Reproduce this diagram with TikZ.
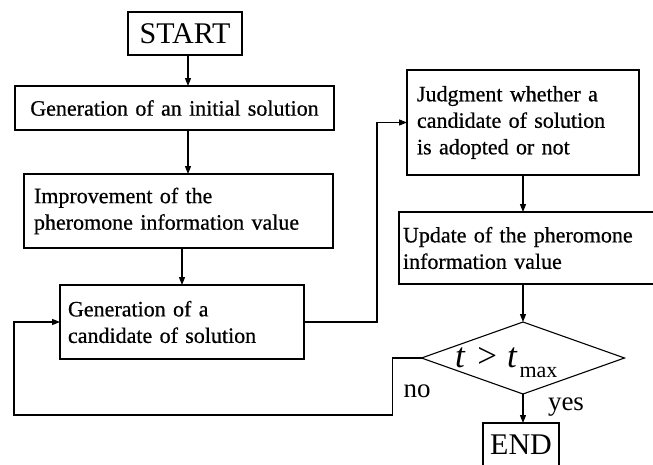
\documentclass[tikz,border=0pt]{standalone}
\usepackage{fontspec}
\setmainfont{Liberation Serif}
\newfontfamily\boxfont[FakeBold=0.6,WordSpace=1.6]{Liberation Serif}
\usetikzlibrary{arrows.meta,shapes.geometric}
\begin{document}
\begin{tikzpicture}[x=1pt,y={(0pt,-1pt)},
  line width=1.1pt,
  every node/.style={inner sep=0pt, outer sep=0pt},
  term/.style={draw, anchor=north west, font=\fontsize{30}{30}\selectfont},
  proc/.style={draw, anchor=north west, align=left, font=\boxfont\fontsize{22}{26.5}\selectfont},
  flow/.style={-{Triangle[length=8pt,width=6pt]}},
  tag/.style={anchor=base, font=\fontsize{27}{27}\selectfont}]
\useasboundingbox (0,0) rectangle (653,464);
\clip (0,0) rectangle (653,464);

% process boxes
\node[term, minimum width=114pt, minimum height=43pt] (start) at (128,12) {START};
\node[proc, align=center, minimum width=319pt, minimum height=44pt, text width=312pt] (b1) at (15,86)
  {Generation of an initial solution};
\node[proc, minimum width=309pt, minimum height=74pt, text width=289pt] (b2) at (24,174)
  {Improvement of the\\ pheromone information value};
\node[proc, minimum width=244pt, minimum height=74pt, text width=228pt] (b3) at (60,285)
  {Generation of a\\ candidate of solution};
\node[proc, minimum width=232pt, minimum height=105pt, text width=212pt] (b4) at (407,70)
  {Judgment whether a\\ candidate of solution\\ is adopted or not};
\node[proc, minimum width=272pt, minimum height=72pt, text width=264pt] (b5) at (399,212)
  {Update of the pheromone\\ information value};

% decision and end
\node[draw, diamond, minimum width=203pt, minimum height=72pt] (dia) at (523,358) {};
\node[anchor=base west, font=\fontsize{35}{35}\selectfont] (cond) at (455,367)
  {\textit{t}\hspace{12pt}>\hspace{10pt}\textit{t}\hspace{2pt}\raisebox{-10pt}{\fontsize{22}{22}\selectfont max}};
\node[term, minimum width=76pt, minimum height=43pt] (end) at (483,423) {END};
\node[tag] (no) at (417,397) {no};
\node[tag] (yes) at (566,410) {yes};

% connectors
\coordinate (spine) at (188,0);
\draw[flow] (spine |- start.south) -- (spine |- b1.north);
\draw[flow] (spine |- b1.south) -- (spine |- b2.north);
\draw[flow] (b3.north |- b2.south) -- (b3.north);
\draw[flow] (b3.east) -- ++(73,0) |- (b4.west);
\draw[flow] (b4.south) -- (b4.south |- b5.north);
\draw[flow] (dia.north |- b5.south) -- (dia.north);
\draw[flow] (dia.south) -- (dia.south |- end.north);
\draw[flow] (dia.west) -- ++(-29,0) -- ++(0,57) -| ([xshift=-46pt]b3.west) -- (b3.west);
\end{tikzpicture}
\end{document}
